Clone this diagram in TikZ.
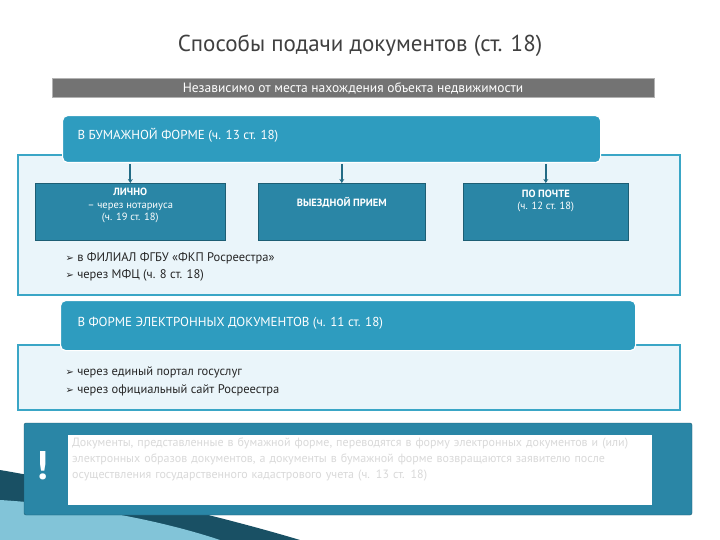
\documentclass[tikz,border=0pt]{standalone}
\usepackage{fontspec}
\setmainfont{PT Sans}
\newfontfamily\symf{DejaVu Sans}
\newcommand{\arrb}{{\symf\fontsize{10}{12}\selectfont ➢}\ }
\usetikzlibrary{arrows.meta}
\definecolor{teal1}{HTML}{2E9CBF}
\definecolor{teal2}{HTML}{2A86A6}
\definecolor{panel}{HTML}{EAF5FA}
\definecolor{bord}{HTML}{3AA6C6}
\begin{document}
\begin{tikzpicture}[x=1pt,y=-1pt,
  bigbox/.style={fill=teal1,draw=white,line width=1.2pt,rounded corners=5pt,text=white,anchor=north west,inner xsep=0pt,inner ysep=0pt},
  subbox/.style={fill=teal2,draw=teal2!70!black,line width=0.6pt,text=white,minimum width=#1,minimum height=57pt,anchor=north west,align=center,font=\fontsize{10.5}{12.5}\selectfont},
  panelbox/.style={fill=panel,draw=bord,line width=1.5pt},
  arr/.style={-{Stealth[length=4pt,width=5pt]},line width=2.2pt,draw=teal2!80!black},
  bul/.style={anchor=west,font=\fontsize{12.5}{14}\selectfont,text=black!85}]
\useasboundingbox (0,0) rectangle (720,540);
\fill[white] (0,0) rectangle (720,540);
\fill[teal2!60!black] (0,470) .. controls (60,480) and (200,510) .. (300,540) -- (0,540) -- cycle;
\fill[teal1!60!white] (0,500) .. controls (80,505) and (160,520) .. (220,540) -- (0,540) -- cycle;
\node (title) at (360,46) {\fontsize{23}{26}\selectfont\color{black!75}Способы подачи документов (ст. 18)};
\node[fill=black!55,draw=black!30,line width=1pt,minimum width=602pt,minimum height=19pt,inner ysep=1pt,text=white,font=\fontsize{13.5}{15}\selectfont] (bar) at (353,88) {Независимо от места нахождения объекта недвижимости};
\draw[panelbox] (18,155) rectangle (680,295);
\node[bigbox,minimum width=538pt,minimum height=47pt] (paper) at (62,115) {};
\node[anchor=west,text=white,font=\fontsize{13}{15}\selectfont] (ptxt) at (74,135) {В БУМАЖНОЙ ФОРМЕ (ч. 13 ст. 18)};
\node[subbox=190pt] (l1) at (35,183) {\textbf{ЛИЧНО}\\– через нотариуса\\(ч. 19 ст. 18)\\[2pt]};
\node[subbox=167pt] (l2) at (258,183) {\textbf{ВЫЕЗДНОЙ ПРИЕМ}\\[8pt]};
\node[subbox=165pt] (l3) at (463,183) {\textbf{ПО ПОЧТЕ}\\(ч. 12 ст. 18)\\[12pt]};
\draw[arr] (l1.north |- 0,164) -- (l1.north);
\draw[arr] (l2.north |- 0,164) -- (l2.north);
\draw[arr] (l3.north |- 0,164) -- (l3.north);
\node[bul] (b1) at (62,258) {\arrb в ФИЛИАЛ ФГБУ «ФКП Росреестра»};
\node[bul] (b2) at (62,275) {\arrb через МФЦ  (ч. 8 ст. 18)};
\draw[panelbox] (18,345) rectangle (680,410);
\node[bigbox,minimum width=575pt,minimum height=50pt] (el) at (60,300) {};
\node[anchor=west,text=white,font=\fontsize{13}{15}\selectfont] (etxt) at (74,323) {В ФОРМЕ ЭЛЕКТРОННЫХ ДОКУМЕНТОВ (ч. 11 ст. 18)};
\node[bul] (b3) at (62,372) {\arrb через единый портал госуслуг};
\node[bul] (b4) at (62,390) {\arrb через официальный сайт Росреестра};
\draw[fill=teal2,draw=teal2!70!black,rounded corners=2pt] (24,423) rectangle (692,515);
\fill[white] (68,435) rectangle (652,505);
\node[text=white,font=\fontsize{40}{40}\bfseries\selectfont] (ex) at (42,466) {!};
\node[anchor=north west,text width=575pt,font=\fontsize{12}{16}\selectfont,text=black!15,inner sep=2pt] (note) at (70,436) {Документы, представленные в бумажной форме, переводятся в форму электронных документов и (или) электронных образов документов, а документы в бумажной форме возвращаются заявителю после осуществления государственного кадастрового учета (ч. 13 ст. 18)};
\end{tikzpicture}
\end{document}
